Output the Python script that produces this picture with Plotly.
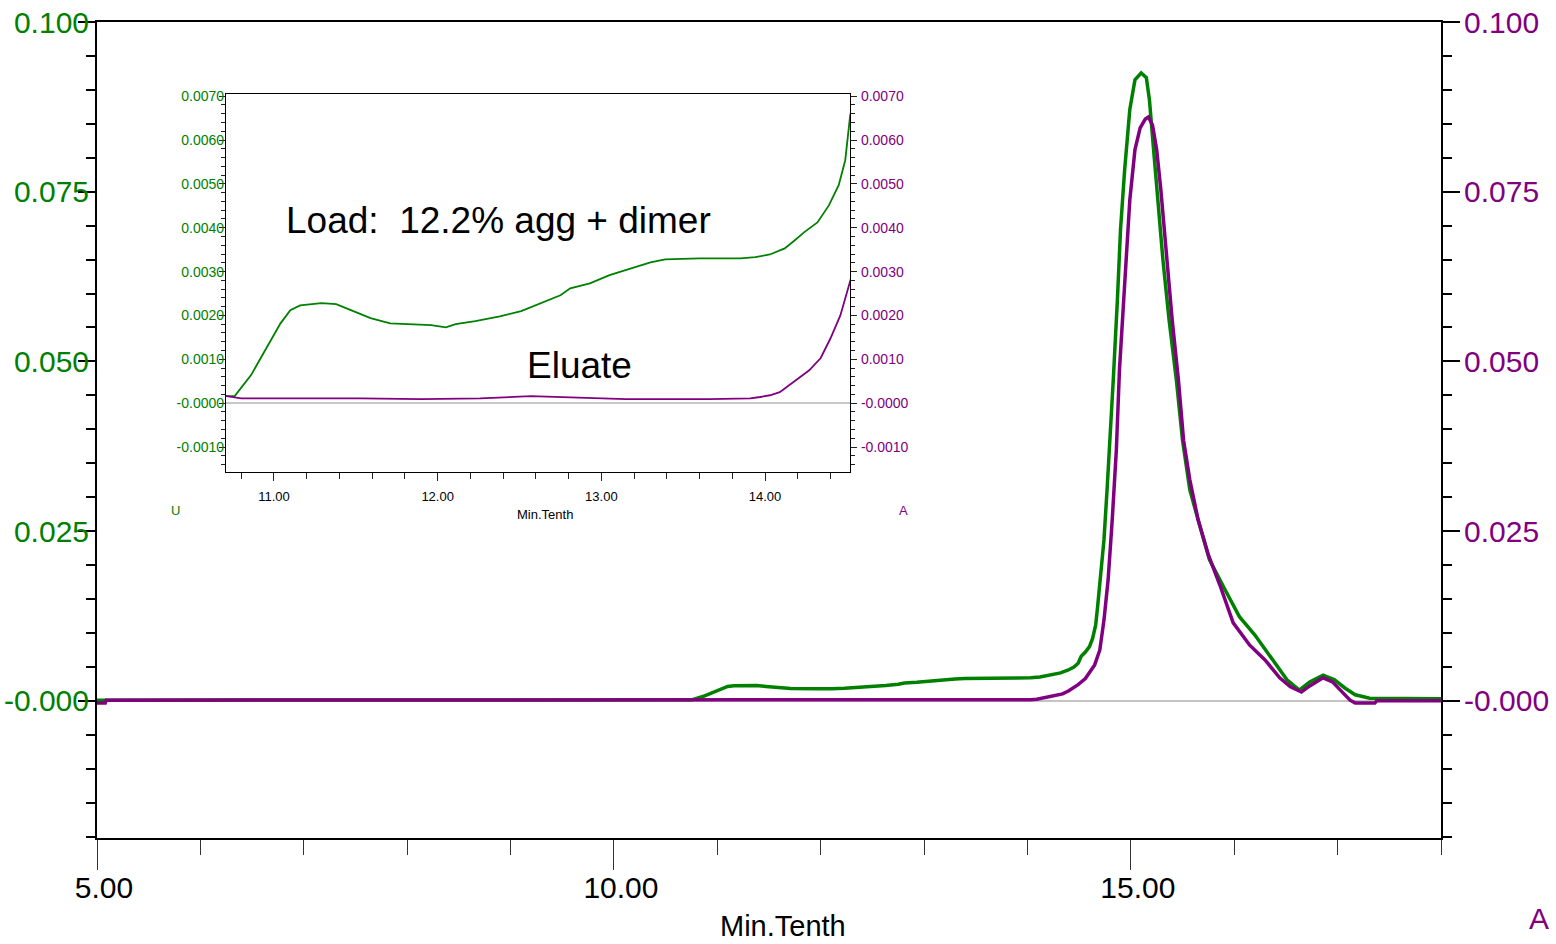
import plotly.graph_objects as go

# ---------------- data (minutes, absorbance units) ----------------
green_time = [5.00, 10.72, 10.76, 10.86, 10.96, 11.04, 11.10, 11.16, 11.29, 11.38,
              11.47, 11.59, 11.71, 11.96, 12.05, 12.11, 12.23, 12.38, 12.51, 12.63,
              12.75, 12.81, 12.93, 13.05, 13.18, 13.30, 13.39, 13.60, 13.85, 13.94,
              14.03, 14.12, 14.18, 14.24, 14.32, 14.39, 14.45, 14.49, 14.52, 14.56,
              14.60, 14.63, 14.66, 14.68, 14.71, 14.74, 14.77, 14.80, 14.83, 14.87,
              14.90, 14.94, 14.99, 15.04, 15.10, 15.15, 15.18, 15.22, 15.26, 15.31,
              15.37, 15.44, 15.50, 15.57, 15.65, 15.76, 15.91, 16.05, 16.20, 16.34,
              16.51, 16.63, 16.73, 16.86, 16.97, 17.07, 17.17, 17.31, 18.00]
green_au = [0.0001, 0.00015, 0.00016, 0.00064, 0.00128, 0.00182, 0.00212, 0.00223, 0.00228, 0.00226,
            0.00212, 0.00194, 0.00182, 0.00178, 0.00173, 0.00180, 0.00187, 0.00198, 0.00210, 0.00228,
            0.00246, 0.00262, 0.00273, 0.00292, 0.00308, 0.00321, 0.00328, 0.00330, 0.00330, 0.00333,
            0.00339, 0.00353, 0.00371, 0.00390, 0.00412, 0.00451, 0.00497, 0.00554, 0.00656, 0.0072,
            0.0080, 0.0092, 0.0112, 0.0141, 0.0186, 0.0237, 0.0311, 0.0384, 0.0473, 0.0591,
            0.0694, 0.0782, 0.0871, 0.0915, 0.0925, 0.0918, 0.0885, 0.0812, 0.0738, 0.0650,
            0.0561, 0.0473, 0.0384, 0.0311, 0.0267, 0.0208, 0.0164, 0.0124, 0.0097, 0.0068,
            0.0031, 0.0016, 0.0028, 0.0038, 0.0031, 0.0019, 0.0009, 0.0004, 0.0003]

purple_time = [5.00, 5.08, 5.09, 10.71, 10.80, 11.16, 11.53, 11.90, 12.26, 12.57,
               12.75, 12.99, 13.15, 13.66, 13.91, 13.97, 14.03, 14.09, 14.15, 14.21,
               14.27, 14.34, 14.40, 14.46, 14.49, 14.52, 14.56, 14.65, 14.70, 14.74,
               14.78, 14.82, 14.86, 14.89, 14.94, 14.99, 15.04, 15.09, 15.14, 15.17,
               15.21, 15.25, 15.29, 15.34, 15.40, 15.46, 15.51, 15.57, 15.65, 15.75,
               15.86, 15.99, 16.15, 16.30, 16.44, 16.54, 16.65, 16.73, 16.86, 16.95,
               17.05, 17.12, 17.17, 17.36, 17.38, 18.00]
purple_au = [-0.0003, -0.0003, 0.0001, 0.00016, 0.00011, 0.00011, 0.00011, 0.00009, 0.00011, 0.00016,
             0.00014, 0.00011, 0.00009, 0.00009, 0.00011, 0.00014, 0.00018, 0.00025, 0.00041, 0.00057,
             0.00075, 0.00103, 0.00148, 0.00200, 0.00239, 0.00278, 0.0033, 0.0053, 0.0075, 0.0119,
             0.0178, 0.0267, 0.0370, 0.0488, 0.0620, 0.0738, 0.0812, 0.0844, 0.0857, 0.0860,
             0.0848, 0.0812, 0.0753, 0.0664, 0.0561, 0.0473, 0.0384, 0.0326, 0.0267, 0.0215,
             0.0171, 0.0115, 0.0082, 0.0060, 0.0034, 0.0021, 0.0013, 0.0022, 0.0034, 0.0028,
             0.0012, 0.0001, -0.0003, -0.0003, 0.0, 0.0]

main_x_ticks = [5, 10, 15]
main_x_labels = ["5.00", "10.00", "15.00"]
main_y_ticks = [0, 0.025, 0.05, 0.075, 0.1]
main_y_labels = ["-0.000", "0.025", "0.050", "0.075", "0.100"]
inset_x_ticks = [11, 12, 13, 14]
inset_x_labels = ["11.00", "12.00", "13.00", "14.00"]
inset_y_ticks = [-0.001, 0, 0.001, 0.002, 0.003, 0.004, 0.005, 0.006, 0.007]
inset_y_labels = ["-0.0010", "-0.0000", "0.0010", "0.0020", "0.0030",
                  "0.0040", "0.0050", "0.0060", "0.0070"]

# ---------------- style ----------------
W, H = 1556, 944
GREEN = "#008000"
PURPLE = "#800080"
NARROW = "Liberation Sans, Arial, sans-serif"
REG = "Liberation Sans, Arial, sans-serif"


def px(p):
    return p / W


def py(p):
    return 1 - p / H


fig = go.Figure()
fig.add_trace(go.Scatter(x=green_time, y=green_au, xaxis="x", yaxis="y", mode="lines",
                         line=dict(color=GREEN, width=3.5), hoverinfo="skip"))
fig.add_trace(go.Scatter(x=purple_time, y=purple_au, xaxis="x", yaxis="y2", mode="lines",
                         line=dict(color=PURPLE, width=3.5), hoverinfo="skip"))
fig.add_trace(go.Scatter(x=green_time, y=green_au, xaxis="x2", yaxis="y3", mode="lines",
                         line=dict(color=GREEN, width=1.8), hoverinfo="skip"))
fig.add_trace(go.Scatter(x=purple_time, y=purple_au, xaxis="x2", yaxis="y4", mode="lines",
                         line=dict(color=PURPLE, width=1.8), hoverinfo="skip"))

main_yrange = [-0.0202, 0.1]
inset_yrange = [-0.00157, 0.00705]

y_common = dict(range=main_yrange, tickmode="array", tickvals=main_y_ticks, ticktext=main_y_labels,
                ticks="outside", ticklen=17, tickwidth=2, tickcolor="black",
                minor=dict(dtick=0.005, tick0=0, ticks="outside", ticklen=9, tickwidth=2, tickcolor="black"),
                showline=True, linecolor="black", linewidth=2, showgrid=False,
                automargin=False, anchor="x")

iy_common = dict(range=inset_yrange, tickmode="array", tickvals=inset_y_ticks, ticktext=inset_y_labels,
                 ticks="outside", ticklen=6, tickwidth=1, tickcolor="#222",
                 minor=dict(dtick=0.0002, tick0=0, ticks="outside", ticklen=4, tickwidth=1, tickcolor="#222"),
                 showline=True, linecolor="black", linewidth=1.2, showgrid=False,
                 automargin=False, anchor="x2")

fig.update_layout(
    width=W, height=H, autosize=False,
    margin=dict(l=0, r=0, t=0, b=0, pad=0, autoexpand=False),
    paper_bgcolor="white", plot_bgcolor="white",
    showlegend=False,
    xaxis=dict(domain=[px(97), px(1441)], anchor="y", range=[5, 18], automargin=False,
               tickmode="array", tickvals=main_x_ticks, ticktext=main_x_labels,
               ticks="outside", ticklen=30, tickwidth=1, tickcolor="#333",
               minor=dict(dtick=1, tick0=5, ticks="outside", ticklen=15, tickwidth=1, tickcolor="#333"),
               showline=True, linecolor="black", linewidth=2, mirror=True,
               showgrid=False, zeroline=False,
               tickfont=dict(family=NARROW, size=30, color="black"),
               ticklabelshift=7, ticklabelstandoff=-8),
    yaxis=dict(**y_common, side="left", domain=[py(838), py(22)],
               tickfont=dict(family=NARROW, size=30, color=GREEN),
               zeroline=True, zerolinecolor="#c4c4c4", zerolinewidth=2,
               ticklabelstandoff=-17),
    yaxis2=dict(**y_common, overlaying="y", side="right",
                tickfont=dict(family=NARROW, size=30, color=PURPLE),
                zeroline=False, ticklabelstandoff=-2),
    xaxis2=dict(domain=[px(226), px(850)], anchor="y3", range=[10.707, 14.519], automargin=False,
                tickmode="array", tickvals=inset_x_ticks, ticktext=inset_x_labels,
                ticks="outside", ticklen=8, tickwidth=1, tickcolor="#222",
                minor=dict(dtick=0.2, tick0=11, ticks="outside", ticklen=6, tickwidth=1, tickcolor="#222"),
                showline=True, linecolor="black", linewidth=1.2, mirror=True,
                showgrid=False, zeroline=False,
                tickfont=dict(family=NARROW, size=13, color="black"),
                ticklabelstandoff=4),
    yaxis3=dict(**iy_common, side="left", domain=[py(472), py(94)],
                tickfont=dict(family=NARROW, size=14, color=GREEN),
                zeroline=True, zerolinecolor="#c8c8c8", zerolinewidth=1.5,
                ticklabelstandoff=-8),
    yaxis4=dict(**iy_common, overlaying="y3", side="right",
                tickfont=dict(family=NARROW, size=14, color=PURPLE),
                zeroline=False, ticklabelstandoff=1),
)

annotations = [
    dict(text="Load:\u00a0 12.2% agg + dimer", x=px(499), y=py(220), font=dict(family=REG, size=37, color="black")),
    dict(text="Eluate", x=px(579), y=py(365), font=dict(family=REG, size=37, color="black")),
    dict(text="Min.Tenth", x=px(783), y=py(926), font=dict(family=NARROW, size=29, color="black")),
    dict(text="Min.Tenth", x=px(545), y=py(514), font=dict(family=NARROW, size=13, color="black")),
    dict(text="U", x=px(175), y=py(511), font=dict(family=NARROW, size=13, color=GREEN)),
    dict(text="A", x=px(903), y=py(511), font=dict(family=NARROW, size=13, color=PURPLE)),
    dict(text="A", x=px(1527), y=py(918), xanchor="left", font=dict(family=NARROW, size=30, color=PURPLE)),
]
for a in annotations:
    a.setdefault("xanchor", "center")
    a.update(xref="paper", yref="paper", yanchor="middle", showarrow=False)
fig.update_layout(annotations=annotations)

fig.write_html("out.html", config={"displayModeBar": False},
               post_script="document.body.style.margin='0px';document.body.style.overflow='hidden';")
